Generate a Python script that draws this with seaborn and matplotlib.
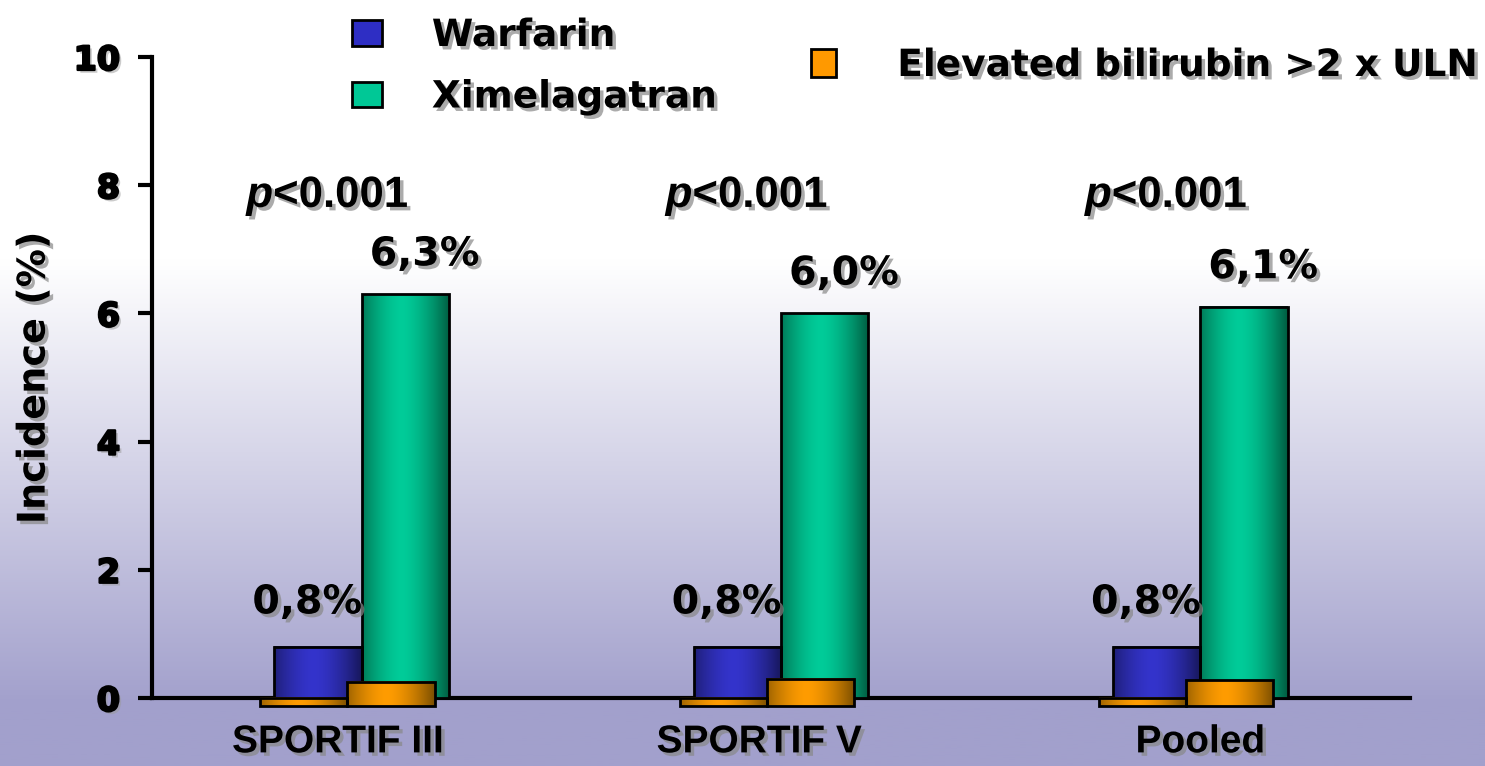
import numpy as np
import pandas as pd
import matplotlib
matplotlib.use("Agg")
import matplotlib.pyplot as plt
import matplotlib.patheffects as pe
import matplotlib.transforms as mtransforms
from matplotlib.patches import Patch
import seaborn as sns

# ---------------- data ----------------
studies = ["SPORTIF III", "SPORTIF V", "Pooled"]
treatments = ["Warfarin", "Ximelagatran"]
warfarin_inc = [0.8, 0.8, 0.8]
ximelagatran_inc = [6.3, 6.0, 6.1]
bilirubin_warfarin = [0.0, 0.0, 0.0]
bilirubin_ximelagatran = [0.25, 0.30, 0.28]
value_labels_w = ["0,8%", "0,8%", "0,8%"]
value_labels_x = ["6,3%", "6,0%", "6,1%"]
p_labels = ["<0.001", "<0.001", "<0.001"]
yticks = [0, 2, 4, 6, 8, 10]
ylabel = "Incidence (%)"
bili_label = "Elevated bilirubin >2 x ULN"

df = pd.DataFrame({
    "study": studies * 2,
    "treatment": [treatments[0]] * 3 + [treatments[1]] * 3,
    "incidence": warfarin_inc + ximelagatran_inc,
})
df_b = pd.DataFrame({
    "study": studies * 2,
    "treatment": [treatments[0]] * 3 + [treatments[1]] * 3,
    "bili": bilirubin_warfarin + bilirubin_ximelagatran,
})

sns.set_theme(style="white")
plt.rcParams["font.family"] = ["DejaVu Sans"]
plt.rcParams["mathtext.fontset"] = "custom"
plt.rcParams["mathtext.it"] = "Liberation Sans:italic:bold"
plt.rcParams["mathtext.rm"] = "Liberation Sans:bold"
for k in ["text.color", "axes.labelcolor", "xtick.color", "ytick.color"]:
    plt.rcParams[k] = "black"

W, H = 1485, 766
fig = plt.figure(figsize=(W / 100, H / 100), dpi=100)

# background gradient
bg = fig.add_axes([0, 0, 1, 1], zorder=-10)
yy = np.linspace(0, 1, 400)  # 0 top -> 1 bottom
t = np.clip((yy - 0.34) / (0.92 - 0.34), 0, 1)
top = np.array([1.0, 1.0, 1.0])
bot = np.array([162, 160, 204]) / 255
grad = top[None, :] * (1 - t[:, None]) + bot[None, :] * t[:, None]
bg.imshow(grad[:, None, :], aspect="auto", extent=[0, 1, 1, 0])
bg.set_axis_off()

L, R = 152 / W, 1410 / W
B, T = (H - 698) / H, (H - 57) / H
ax = fig.add_axes([L, B, R - L, T - B])
ax.set_facecolor("none")

colors = {"Warfarin": "#2e2ec4", "Ximelagatran": "#00c896"}
sns.barplot(data=df, x="study", y="incidence", hue="treatment", order=studies,
            hue_order=treatments, palette=colors, width=0.416, gap=0,
            edgecolor="black", linewidth=2, legend=False, ax=ax, zorder=3)
main_bars = list(ax.patches)

sns.barplot(data=df_b, x="study", y="bili", hue="treatment", order=studies,
            hue_order=treatments, palette={"Warfarin": "#ff9900", "Ximelagatran": "#ff9900"},
            width=0.416, gap=0, edgecolor="black", linewidth=2, legend=False, ax=ax, zorder=4)
orange_bars = list(ax.patches)[len(main_bars):]

depth_y = 0.125
depth_x = 0.034
for p in orange_bars:
    p.set_x(p.get_x() - depth_x)
    h = p.get_height()
    p.set_y(-depth_y)
    p.set_height(h + depth_y)

def shade(p, dark, light, z):
    x0, y0 = p.get_x(), p.get_y()
    w, h = p.get_width(), p.get_height()
    u = np.linspace(0, 1, 200)
    s = np.clip(1 - np.abs((u - 0.45) / 0.55) ** 1.6, 0, 1)
    dark = np.array(matplotlib.colors.to_rgb(dark))
    light = np.array(matplotlib.colors.to_rgb(light))
    g = dark[None, :] * (1 - s[:, None]) + light[None, :] * s[:, None]
    im = ax.imshow(g[None, :, :], aspect="auto", extent=[x0, x0 + w, y0, y0 + h],
                   zorder=z, clip_on=False, interpolation="bilinear")
    im.set_clip_path(p)
    p.set_clip_on(False)

for i, p in enumerate(main_bars):
    if i < 3:
        shade(p, "#17175a", "#3434cc", 3.1)
    else:
        shade(p, "#005c40", "#00cc99", 3.1)
for p in orange_bars:
    shade(p, "#7a4e00", "#ff9c00", 4.1)
    p.set_facecolor("none")
    p.set_zorder(4.2)
for p in main_bars:
    p.set_facecolor("none")
    p.set_zorder(3.2)

ax.set_xlim(-0.5, 2.5)
ax.set_ylim(0, 10)

shadow = [pe.withSimplePatchShadow(offset=(2.5, -2.5), shadow_rgbFace="#888888", alpha=0.7)]
heavy = [pe.SimplePatchShadow(offset=(2, -2), shadow_rgbFace="#999999", alpha=0.5),
         pe.withStroke(linewidth=1.6, foreground="black")]

ax.set_yticks(yticks)
ax.set_yticklabels([str(v) for v in yticks], fontsize=24, fontweight="bold",
                   family="DejaVu Sans")
ax.tick_params(axis="y", length=10, width=3, color="black", left=True, pad=13)
ax.tick_params(axis="x", length=0, pad=19)
ax.set_xticks(range(3))
ax.set_xticklabels(studies, fontsize=28, fontweight="bold",
                   family=["Liberation Sans", "DejaVu Sans"])
xshift = [-24, -22, 0]
for lab, dx in zip(ax.get_xticklabels(), xshift):
    lab.set_path_effects(shadow)
    lab.set_transform(lab.get_transform() +
                      mtransforms.ScaledTranslation(dx / 100, 0, fig.dpi_scale_trans))
for lab in ax.get_yticklabels():
    lab.set_path_effects(heavy)
ax.set_xlabel("")
ax.set_ylabel(ylabel, fontsize=27.5, fontweight="bold")
ax.yaxis.set_label_coords(-0.079, 0.5)
ax.yaxis.label.set_path_effects(shadow)

for s in ["top", "right"]:
    ax.spines[s].set_visible(False)
for s in ["left", "bottom"]:
    ax.spines[s].set_linewidth(3)
    ax.spines[s].set_color("black")
    ax.spines[s].set_zorder(2)

for i in range(3):
    ax.text(i - 0.08, 7.66, "$p$" + p_labels[i], fontsize=31.5, fontweight="bold",
            family="Liberation Sans", ha="center", va="baseline",
            path_effects=shadow, zorder=6)
    ax.text(i - 0.13, warfarin_inc[i] + 0.52, value_labels_w[i], fontsize=28.5,
            fontweight="bold", ha="center", va="baseline", path_effects=shadow, zorder=6)
    ax.text(i + 0.15, ximelagatran_inc[i] + 0.45, value_labels_x[i], fontsize=28.5,
            fontweight="bold", ha="center", va="baseline", path_effects=shadow, zorder=6)

def mk(c):
    return Patch(facecolor=c, edgecolor="black", linewidth=2)

leg1 = ax.legend([mk("#2e2ec4"), mk("#00c896")], treatments, loc="upper left",
                 bbox_to_anchor=(352 / W, 1 - 18 / H), bbox_transform=fig.transFigure,
                 frameon=False, handlelength=0.8, handleheight=0.67,
                 handletextpad=1.33, labelspacing=0.68, borderpad=0, borderaxespad=0,
                 prop={"weight": "bold", "size": 27, "family": "DejaVu Sans"})
for tx in leg1.get_texts():
    tx.set_path_effects(shadow)
ax.add_artist(leg1)
leg2 = ax.legend([mk("#ff9900")], [bili_label], loc="upper left",
                 bbox_to_anchor=(811 / W, 1 - 48 / H), bbox_transform=fig.transFigure,
                 frameon=False, handlelength=0.67, handleheight=0.77,
                 handletextpad=1.63, borderpad=0, borderaxespad=0,
                 prop={"weight": "bold", "size": 27, "family": "DejaVu Sans"})
for tx in leg2.get_texts():
    tx.set_path_effects(shadow)

fig.savefig("out.png", dpi=100)
